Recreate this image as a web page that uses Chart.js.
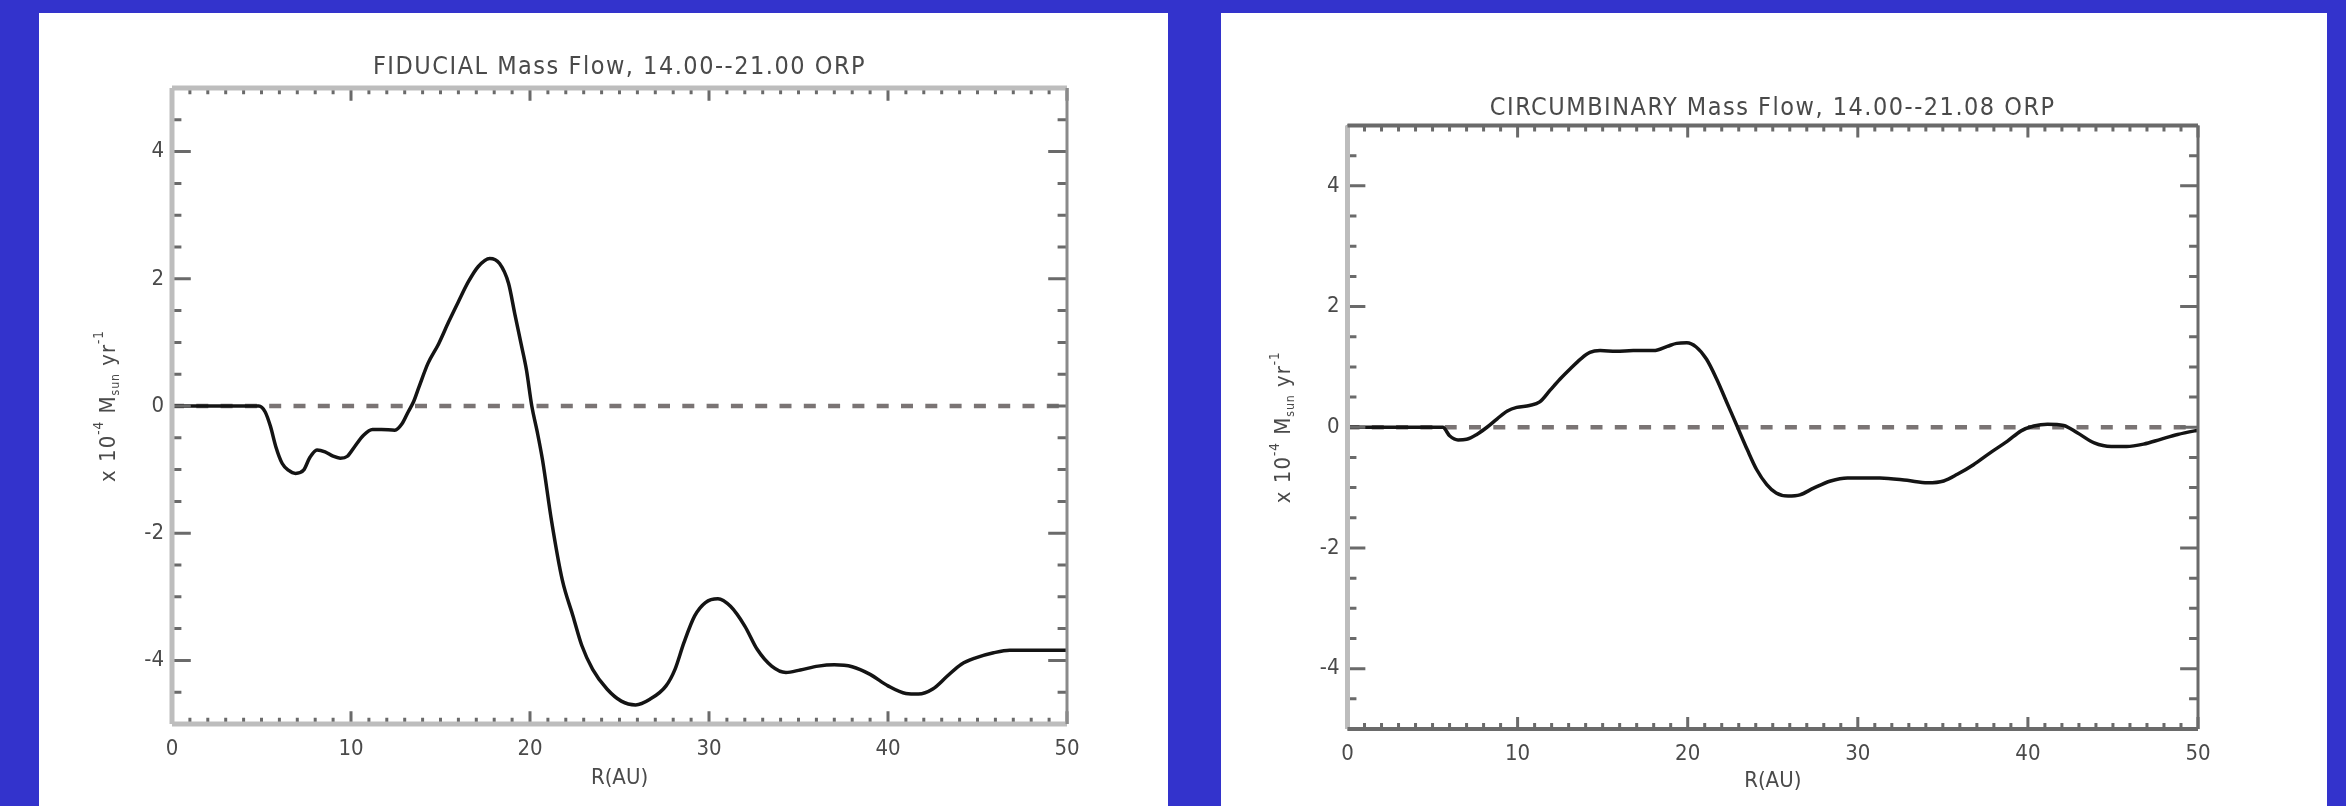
<!DOCTYPE html>
<html>
<head>
<meta charset="utf-8">
<title>Mass Flow</title>
<script src="https://cdn.jsdelivr.net/npm/chart.js@4.4.0/dist/chart.umd.min.js"></script>
<style>
  html, body { margin: 0; padding: 0; }
  body { width: 2346px; height: 806px; background: #3333cc; position: relative; overflow: hidden; }
  .panel { position: absolute; background: #fff; }
  #left-panel { left: 39px; top: 13px; width: 1129px; height: 793px; }
  #right-panel { left: 1221px; top: 13px; width: 1106px; height: 793px; }
  canvas { display: block; }
</style>
</head>
<body>
<div class="panel" id="left-panel"><canvas id="fiducial-chart" width="1129" height="793"></canvas></div>
<div class="panel" id="right-panel"><canvas id="circum-chart" width="1106" height="793"></canvas></div>
<script>
// axis ticks (shared by both panels)
const xTicks = [0, 10, 20, 30, 40, 50];
const yTicks = [-4, -2, 0, 2, 4];

// FIDUCIAL run: R (AU) and mass flow (x 10^-4 Msun/yr)
const fiducialR = [
  0, 1, 2, 3, 4, 4.85, 5.2, 5.5, 5.8, 6.15, 6.5, 6.9, 7.35, 7.7, 8.1, 8.55,
  9.0, 9.4, 9.8, 10.2, 10.7, 11.2, 11.7, 12.45, 12.85, 13.2, 13.5, 13.8, 14.3,
  14.9, 15.45, 16.0, 16.55, 17.1, 17.75, 18.3, 18.8, 19.15, 19.5, 19.8, 20.1,
  20.4, 20.7, 21.2, 21.8, 22.4, 22.9, 23.5, 24.3, 25.1, 25.9, 26.7, 27.6, 28.1,
  28.6, 29.2, 29.8, 30.5, 31.2, 32.0, 32.7, 33.5, 34.3, 35.1, 36.1, 37.0, 38.0,
  39.0, 40.0, 41.0, 41.7, 42.5, 43.3, 44.1, 44.9, 45.9, 46.8, 47.8, 50
];
const fiducialFlow = [
  0, 0, 0, 0, 0, 0, -0.09, -0.32, -0.64, -0.90, -1.01, -1.06, -1.01, -0.81, -0.69, -0.72,
  -0.79, -0.82, -0.79, -0.64, -0.46, -0.37, -0.37, -0.38, -0.28, -0.09, 0.07, 0.30, 0.67,
  0.98, 1.32, 1.64, 1.95, 2.19, 2.32, 2.24, 1.93, 1.45, 0.98, 0.57, 0.0,
  -0.40, -0.85, -1.80, -2.73, -3.30, -3.77, -4.14, -4.45, -4.64, -4.70, -4.61, -4.40, -4.14,
  -3.72, -3.30, -3.09, -3.03, -3.15, -3.46, -3.83, -4.09, -4.19, -4.15, -4.09, -4.07, -4.10,
  -4.22, -4.40, -4.52, -4.53, -4.45, -4.25, -4.06, -3.96, -3.88, -3.84, -3.84, -3.84
];

// CIRCUMBINARY run
const circumR = [
  0, 1, 2, 3, 4, 5, 5.6, 6.0, 6.5, 7.0, 7.6, 8.2, 8.8, 9.4, 9.95, 10.7, 11.3, 11.9,
  12.5, 13.1, 13.7, 14.25, 14.85, 15.8, 16.8, 18.0, 18.8, 19.35, 19.95, 20.5, 21.1,
  21.7, 22.3, 22.9, 23.5, 24.05, 24.65, 25.2, 25.9, 26.6, 27.4, 28.4, 29.4, 31.3,
  32.9, 34.1, 35.05, 35.85, 36.8, 37.8, 38.8, 39.6, 40.35, 41.15, 42.1, 42.9, 43.9,
  44.9, 45.8, 46.8, 47.8, 48.8, 49.8, 50
];
const circumFlow = [
  0, 0, 0, 0, 0, 0, 0, -0.14, -0.21, -0.20, -0.12, 0.0, 0.14, 0.27, 0.33, 0.36, 0.42, 0.61,
  0.80, 0.97, 1.13, 1.24, 1.27, 1.26, 1.27, 1.27, 1.34, 1.39, 1.40, 1.33, 1.13,
  0.80, 0.41, 0.02, -0.37, -0.70, -0.95, -1.09, -1.14, -1.12, -1.01, -0.89, -0.84, -0.84,
  -0.88, -0.92, -0.89, -0.78, -0.62, -0.42, -0.23, -0.06, 0.02, 0.05, 0.03, -0.09, -0.26,
  -0.32, -0.32, -0.28, -0.20, -0.12, -0.06, -0.05
];

const FONT = "'DejaVu Sans Condensed', 'DejaVu Sans', sans-serif";
const TEXT = '#4a4a4a';

// IDL style box: inward ticks on all four sides, title and the y label with super/subscripts
const idlFrame = {
  id: 'idlFrame',
  afterDraw(chart, args, opts) {
    const { ctx, chartArea: a, scales: { x, y } } = chart;
    const w = a.right - a.left, h = a.bottom - a.top;
    ctx.save();

    // ticks
    ctx.strokeStyle = '#6a6a6a';
    ctx.lineWidth = 3;
    for (let v = x.min; v <= x.max + 1e-9; v += opts.xMinor) {
      const px = x.getPixelForValue(v);
      const len = xTicks.includes(Math.round(v * 100) / 100) ? h * 0.02 : h * 0.01;
      ctx.beginPath();
      ctx.moveTo(px, a.top); ctx.lineTo(px, a.top + len);
      ctx.moveTo(px, a.bottom); ctx.lineTo(px, a.bottom - len);
      ctx.stroke();
    }
    for (let v = y.min; v <= y.max + 1e-9; v += opts.yMinor) {
      const py = y.getPixelForValue(v);
      const len = yTicks.includes(Math.round(v * 100) / 100) ? w * 0.021 : w * 0.0105;
      ctx.beginPath();
      ctx.moveTo(a.left, py); ctx.lineTo(a.left + len, py);
      ctx.moveTo(a.right, py); ctx.lineTo(a.right - len, py);
      ctx.stroke();
    }

    // box
    const side = (c, x1, y1, x2, y2) => {
      ctx.strokeStyle = c[0]; ctx.lineWidth = c[1];
      ctx.beginPath(); ctx.moveTo(x1, y1); ctx.lineTo(x2, y2); ctx.stroke();
    };
    side(opts.frame.left, a.left, a.top, a.left, a.bottom);
    side(opts.frame.top, a.left, a.top, a.right, a.top);
    side(opts.frame.bottom, a.left, a.bottom, a.right, a.bottom);
    side(opts.frame.right, a.right, a.top, a.right, a.bottom);

    // title
    ctx.fillStyle = TEXT;
    ctx.font = `25px ${FONT}`;
    ctx.letterSpacing = '1.5px';
    ctx.textAlign = 'center';
    ctx.textBaseline = 'middle';
    ctx.fillText(opts.title, (a.left + a.right) / 2, a.top - opts.titleGap);

    // y axis label: x 10^-4 M_sun yr^-1
    const base = 22;
    const parts = [
      { t: 'x 10', s: 1, dy: 0 },
      { t: '-4', s: 0.6, dy: -0.42 },
      { t: ' M', s: 1, dy: 0 },
      { t: 'sun', s: 0.55, dy: 0.3 },
      { t: ' yr', s: 1, dy: 0 },
      { t: '-1', s: 0.6, dy: -0.42 }
    ];
    ctx.letterSpacing = '1px';
    ctx.textAlign = 'left';
    let total = 0;
    parts.forEach(p => { ctx.font = `${base * p.s}px ${FONT}`; p.w = ctx.measureText(p.t).width; total += p.w; });
    ctx.translate(a.left - opts.yLabelGap, (a.top + a.bottom) / 2);
    ctx.rotate(-Math.PI / 2);
    let cx = -total / 2;
    parts.forEach(p => {
      ctx.font = `${base * p.s}px ${FONT}`;
      ctx.fillText(p.t, cx, p.dy * base);
      cx += p.w;
    });
    ctx.restore();
  }
};

function makeChart(canvasId, rValues, flowValues, cfg) {
  const ctx = document.getElementById(canvasId).getContext('2d');
  return new Chart(ctx, {
    type: 'line',
    data: {
      datasets: [
        {
          data: rValues.map((r, i) => ({ x: r, y: flowValues[i] })),
          borderColor: '#141414',
          borderWidth: 3.5,
          pointRadius: 0,
          cubicInterpolationMode: 'monotone',
          fill: false
        },
        {
          // zero reference line
          data: [{ x: xTicks[0], y: 0 }, { x: xTicks[xTicks.length - 1], y: 0 }],
          borderColor: '#7a7474',
          borderWidth: 4.5,
          borderDash: [12, 12.3],
          pointRadius: 0,
          fill: false
        }
      ]
    },
    options: {
      responsive: false,
      animation: false,
      events: [],
      layout: { padding: cfg.padding },
      plugins: {
        legend: { display: false },
        tooltip: { enabled: false },
        title: { display: false },
        idlFrame: {
          title: cfg.title,
          titleGap: cfg.titleGap,
          yLabelGap: 63,
          xMinor: 1,
          yMinor: 0.5,
          frame: cfg.frame
        }
      },
      scales: {
        x: {
          type: 'linear',
          min: 0,
          max: 50,
          afterBuildTicks: s => { s.ticks = xTicks.map(v => ({ value: v })); },
          afterFit: s => { s.height = 75; },
          grid: { display: false, drawTicks: false },
          border: { display: false },
          ticks: { padding: 12, color: TEXT, font: { family: FONT, size: 22 }, maxRotation: 0 },
          title: {
            display: true,
            text: 'R(AU)',
            color: TEXT,
            font: { family: FONT, size: 22 },
            padding: { top: 0, bottom: cfg.xTitlePad }
          }
        },
        y: {
          type: 'linear',
          min: -5,
          max: 5,
          afterBuildTicks: s => { s.ticks = yTicks.map(v => ({ value: v })); },
          afterFit: s => { s.width = 100; },
          grid: { display: false, drawTicks: false },
          border: { display: false },
          ticks: { padding: 8, color: TEXT, font: { family: FONT, size: 22 } }
        }
      }
    },
    plugins: [idlFrame]
  });
}

makeChart('fiducial-chart', fiducialR, fiducialFlow, {
  title: 'FIDUCIAL Mass Flow, 14.00--21.00 ORP',
  titleGap: 21,
  padding: { left: 33, right: 101, top: 75, bottom: 7 },
  xTitlePad: 8,
  frame: { left: ['#bdbdbd', 5], top: ['#bdbdbd', 5], bottom: ['#bdbdbd', 5], right: ['#8a8a8a', 3] }
});

makeChart('circum-chart', circumR, circumFlow, {
  title: 'CIRCUMBINARY Mass Flow, 14.00--21.08 ORP',
  titleGap: 17,
  padding: { left: 26.5, right: 129, top: 112.5, bottom: 2 },
  xTitlePad: 10,
  frame: { left: ['#bdbdbd', 5], top: ['#6a6a6a', 4], bottom: ['#6a6a6a', 4], right: ['#6a6a6a', 3] }
});
</script>
</body>
</html>
